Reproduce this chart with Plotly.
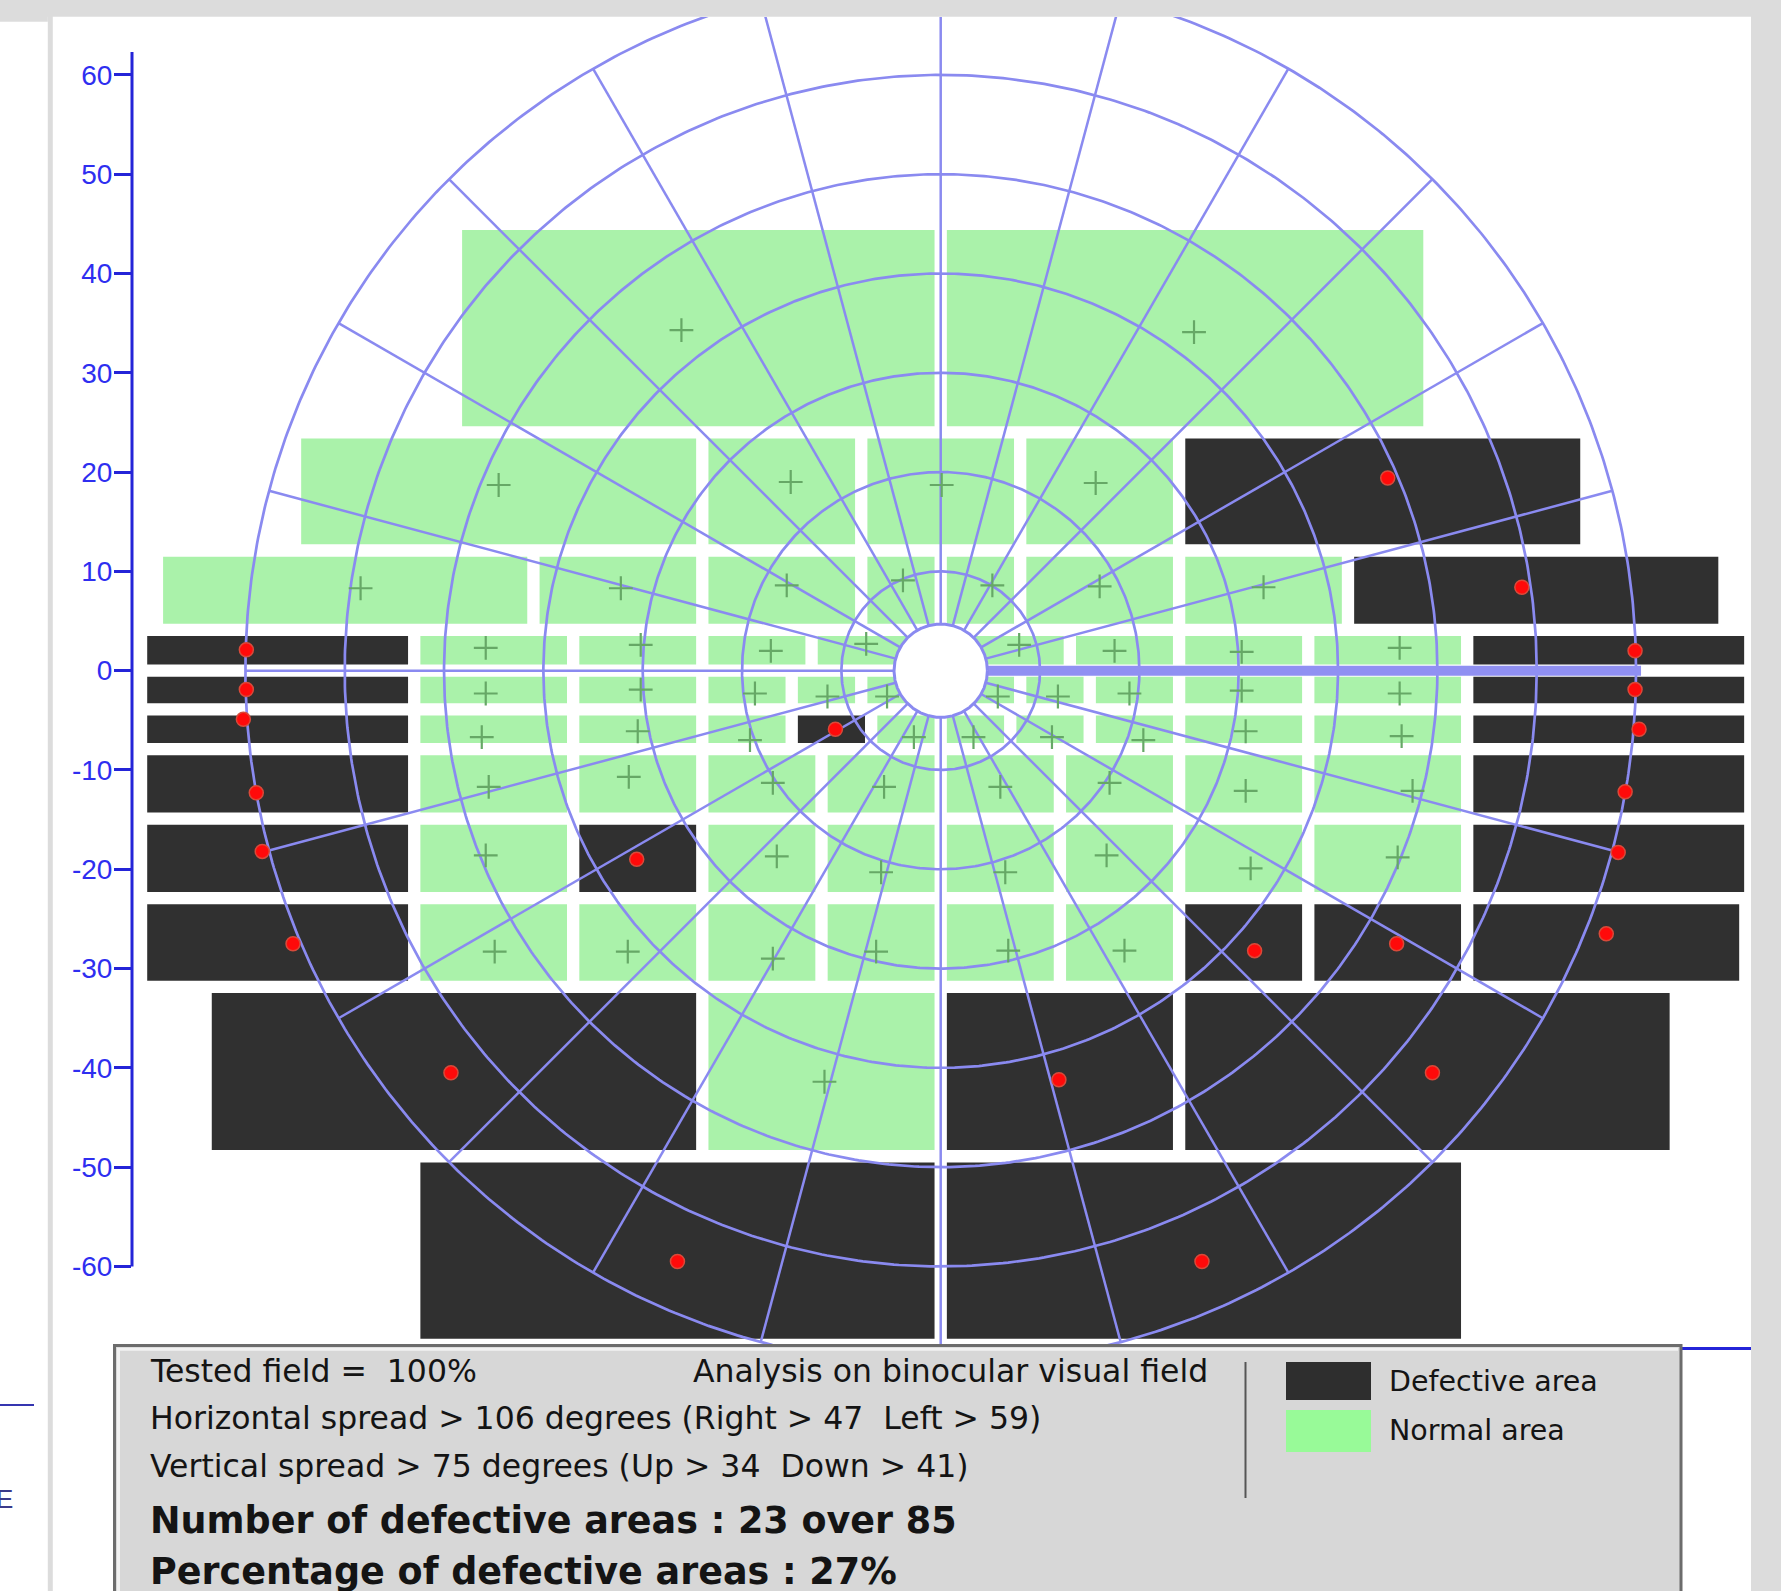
import numpy as np
import plotly.graph_objects as go

# ---------------- data (degrees) ----------------
ROW_EDGES = [45.0, 24.0, 12.1, 4.1, 0.0, -3.9, -7.9, -14.9, -22.9, -31.85, -48.9, -67.9]

ROW_X_EDGES = [
    [-48.8, 0, 49.2],
    [-65, -24, -8, 8, 24, 65],
    [-78.9, -41, -24, -8, 0, 8, 24, 41, 78.9],
    [-80.5, -53, -37, -24, -13, 0, 13, 24, 37, 53, 81.5],
    [-80.5, -53, -37, -24, -15, -8, 0, 8, 15, 24, 37, 53, 81.5],
    [-80.5, -53, -37, -24, -15, -7, 0, 7, 15, 24, 37, 53, 81.5],
    [-80.5, -53, -37, -24, -12, 0, 12, 24, 37, 53, 81.5],
    [-80.5, -53, -37, -24, -12, 0, 12, 24, 37, 53, 81.5],
    [-80.5, -53, -37, -24, -12, 0, 12, 24, 37, 53, 81],
    [-74, -24, 0, 24, 74],
    [-53, 0, 53],
]

# N = normal area, D = defective area
ROW_STATUS = [
    "NN",
    "NNNND",
    "NNNNNNND",
    "DNNNNNNNND",
    "DNNNNNNNNNND",
    "DNNNDNNNNNND",
    "DNNNNNNNND",
    "DNDNNNNNND",
    "DNNNNNNDDD",
    "DNDD",
    "DD",
]

ROW_POINT_X = [
    [-26.1, 25.5],
    [-44.5, -15.1, 0.1, 15.6, 45.0],
    [-58.4, -32.2, -15.5, -3.8, 5.2, 16.0, 32.5, 58.5],
    [-69.9, -45.8, -30.2, -17.1, -7.5, 7.9, 17.5, 30.3, 46.2, 69.9],
    [-69.9, -45.8, -30.2, -18.7, -11.4, -5.4, 5.75, 11.8, 19.0, 30.3, 46.2, 69.9],
    [-70.2, -46.2, -30.5, -19.2, -10.6, -2.7, 3.3, 11.2, 20.4, 30.7, 46.4, 70.3],
    [-68.9, -45.5, -31.4, -16.9, -5.7, 6.0, 17.0, 30.7, 47.5, 68.9],
    [-68.3, -45.8, -30.6, -16.5, -6.0, 6.5, 16.7, 31.2, 46.0, 68.2],
    [-65.2, -44.9, -31.5, -16.9, -6.5, 6.8, 18.5, 31.6, 45.9, 67.0],
    [-49.3, -11.7, 11.9, 49.5],
    [-26.5, 26.3],
]
ROW_POINT_Y = [
    [34.3, 34.1],
    [18.7, 19.0, 18.7, 18.9, 19.4],
    [8.3, 8.3, 8.6, 9.1, 8.6, 8.5, 8.4, 8.4],
    [2.1, 2.3, 2.6, 2.0, 2.7, 2.6, 2.0, 1.9, 2.3, 2.0],
    [-1.9, -2.3, -1.9, -2.3, -2.6, -2.6, -2.6, -2.6, -2.3, -2.0, -2.3, -1.9],
    [-4.9, -6.7, -6.1, -7.0, -5.9, -6.7, -6.7, -6.7, -7.0, -6.1, -6.6, -5.9],
    [-12.3, -11.7, -10.7, -11.3, -11.7, -11.7, -11.3, -12.1, -12.1, -12.2],
    [-18.2, -18.6, -19.0, -18.7, -20.3, -20.3, -18.6, -19.9, -18.8, -18.3],
    [-27.5, -28.3, -28.3, -29.0, -28.3, -28.2, -28.2, -28.2, -27.5, -26.5],
    [-40.5, -41.4, -41.2, -40.5],
    [-59.5, -59.5],
]

RING_RADII = [10, 20, 30, 40, 50, 60, 70]
RADIAL_ANGLES = list(range(0, 360, 15))
CENTER_RADIUS = 4.7
BLIND_LINE_END = 70.5
Y_TICKS = list(range(-60, 61, 10))
Y_AXIS_LINE_SPAN = [-60, 62.3]

INFO_LINES = [
    "Tested field =  100%",
    "Horizontal spread > 106 degrees (Right > 47  Left > 59)",
    "Vertical spread > 75 degrees (Up > 34  Down > 41)",
]
INFO_RIGHT = "Analysis on binocular visual field"
INFO_BOLD = [
    "Number of defective areas : 23 over 85",
    "Percentage of defective areas : 27%",
]
LEGEND_LABELS = ["Defective area", "Normal area"]

# ---------------- styling ----------------
W, H = 1781, 1591
ML, MR, MT, MB = 132, 30, 17, 244
PW, PH = W - ML - MR, H - MT - MB
X_RANGE = [-81.41, 81.57]
Y_RANGE = [-68.11, 65.83]
GAP = 0.62
DARK = "#303030"
GREEN = "#aaf2aa"
GRID = "#8a8af0"
AXIS_BLUE = "#2424d8"
LABEL_BLUE = "#2e2ef0"


def px(X):
    return (X - ML) / PW


def py(Y):
    return (H - MB - Y) / PH


fig = go.Figure()
shapes = []

# cells
for r, xe in enumerate(ROW_X_EDGES):
    top, bot = ROW_EDGES[r], ROW_EDGES[r + 1]
    for i in range(len(xe) - 1):
        col = DARK if ROW_STATUS[r][i] == "D" else GREEN
        shapes.append(dict(type="rect", xref="x", yref="y",
                           x0=xe[i] + GAP, x1=xe[i + 1] - GAP,
                           y0=bot + GAP, y1=top - GAP,
                           fillcolor=col, line=dict(width=0), layer="below"))

# rings
t = np.linspace(0, 2 * np.pi, 721)
rx, ry = [], []
for rad in RING_RADII:
    rx += list(rad * np.cos(t)) + [None]
    ry += list(rad * np.sin(t)) + [None]
fig.add_trace(go.Scatter(x=rx, y=ry, mode="lines",
                         line=dict(color=GRID, width=2.7), hoverinfo="skip"))

# radial lines
lx, ly = [], []
for a in RADIAL_ANGLES:
    if a == 0:
        continue
    th = np.deg2rad(a)
    lx += [CENTER_RADIUS * np.cos(th), RING_RADII[-1] * np.cos(th), None]
    ly += [CENTER_RADIUS * np.sin(th), RING_RADII[-1] * np.sin(th), None]
fig.add_trace(go.Scatter(x=lx, y=ly, mode="lines",
                         line=dict(color=GRID, width=2.5), hoverinfo="skip"))

# thick blind-spot line
fig.add_trace(go.Scatter(x=[CENTER_RADIUS, BLIND_LINE_END], y=[0, 0], mode="lines",
                         line=dict(color="#9090f2", width=10), hoverinfo="skip"))

# central disc
fig.add_trace(go.Scatter(x=list(CENTER_RADIUS * np.cos(t)), y=list(CENTER_RADIUS * np.sin(t)),
                         mode="lines", fill="toself", fillcolor="white",
                         line=dict(color=GRID, width=3), hoverinfo="skip"))

# test points
nx, ny, dx, dy = [], [], [], []
for r in range(len(ROW_POINT_X)):
    for i, (xv, yv) in enumerate(zip(ROW_POINT_X[r], ROW_POINT_Y[r])):
        if ROW_STATUS[r][i] == "D":
            dx.append(xv); dy.append(yv)
        else:
            nx.append(xv); ny.append(yv)
fig.add_trace(go.Scatter(x=nx, y=ny, mode="markers",
                         marker=dict(symbol="cross-thin", size=17,
                                     line=dict(color="#66a866", width=2.2)),
                         hoverinfo="skip"))
fig.add_trace(go.Scatter(x=dx, y=dy, mode="markers",
                         marker=dict(symbol="circle", size=14, color="#ff0a0a",
                                     line=dict(color="#d84a3a", width=1.5)),
                         hoverinfo="skip"))

# y axis line (partial span)
shapes.append(dict(type="line", xref="paper", yref="y", x0=0, x1=0,
                   y0=Y_AXIS_LINE_SPAN[0], y1=Y_AXIS_LINE_SPAN[1],
                   line=dict(color=AXIS_BLUE, width=3)))

# page frame (greys around the panel)
GREY = "#dcdcdc"
shapes += [
    dict(type="rect", xref="paper", yref="paper", x0=px(-5), x1=px(W + 5), y0=py(16.7), y1=py(-5),
         fillcolor=GREY, line=dict(width=0), layer="above"),
    dict(type="rect", xref="paper", yref="paper", x0=px(-5), x1=px(47.8), y0=py(21.7), y1=py(-5),
         fillcolor=GREY, line=dict(width=0), layer="above"),
    dict(type="rect", xref="paper", yref="paper", x0=px(47.8), x1=px(52.8), y0=py(H + 5), y1=py(-5),
         fillcolor=GREY, line=dict(width=0), layer="above"),
    dict(type="rect", xref="paper", yref="paper", x0=px(1751), x1=px(W + 5), y0=py(H + 5), y1=py(-5),
         fillcolor=GREY, line=dict(width=0), layer="above"),
    dict(type="line", xref="paper", yref="paper", x0=px(-2), x1=px(34), y0=py(1405), y1=py(1405),
         line=dict(color="#3535b0", width=2), layer="above"),
]

# info box
shapes += [
    dict(type="rect", xref="paper", yref="paper", x0=px(114.5), x1=px(1681), y0=py(1600), y1=py(1345.5),
         fillcolor="#d7d7d7", line=dict(color="#6c6c6c", width=3), layer="above"),
    dict(type="line", xref="paper", yref="paper", x0=px(117), x1=px(1678), y0=py(1349.2), y1=py(1349.2),
         line=dict(color="#f2f2f2", width=3), layer="above"),
    dict(type="line", xref="paper", yref="paper", x0=px(118.5), x1=px(118.5), y0=py(1349), y1=py(1600),
         line=dict(color="#f2f2f2", width=3), layer="above"),
    dict(type="line", xref="paper", yref="paper", x0=px(1245.5), x1=px(1245.5), y0=py(1362), y1=py(1498),
         line=dict(color="#555555", width=2), layer="above"),
    dict(type="rect", xref="paper", yref="paper", x0=px(1286), x1=px(1371), y0=py(1400), y1=py(1362),
         fillcolor="#2e2e2e", line=dict(width=0), layer="above"),
    dict(type="rect", xref="paper", yref="paper", x0=px(1286), x1=px(1371), y0=py(1452), y1=py(1410),
         fillcolor="#98fa98", line=dict(width=0), layer="above"),
]

ann = []
TXT = "#141414"
for txt, yy in zip(INFO_LINES, [1371, 1417.5, 1466]):
    ann.append(dict(text=txt, x=px(148), y=py(yy), xref="paper", yref="paper",
                    xanchor="left", yanchor="middle", showarrow=False,
                    font=dict(family="DejaVu Sans", size=31.5, color=TXT)))
ann.append(dict(text=INFO_RIGHT, x=px(691), y=py(1371), xref="paper", yref="paper",
                xanchor="left", yanchor="middle", showarrow=False,
                font=dict(family="DejaVu Sans", size=31.5, color=TXT)))
for txt, yy in zip(INFO_BOLD, [1520, 1571]):
    ann.append(dict(text="<b>" + txt + "</b>", x=px(148), y=py(yy), xref="paper", yref="paper",
                    xanchor="left", yanchor="middle", showarrow=False,
                    font=dict(family="DejaVu Sans", size=36.5, color=TXT)))
for txt, yy in zip(LEGEND_LABELS, [1381.5, 1430]):
    ann.append(dict(text=txt, x=px(1387), y=py(yy), xref="paper", yref="paper",
                    xanchor="left", yanchor="middle", showarrow=False,
                    font=dict(family="DejaVu Sans", size=28.5, color=TXT)))
# clipped letter of the neighbouring panel on the left edge
ann.append(dict(text="E", x=px(-6), y=py(1499), xref="paper", yref="paper",
                xanchor="left", yanchor="middle", showarrow=False,
                font=dict(family="Liberation Sans", size=26, color="#3a3a8a")))

fig.update_layout(
    width=W, height=H, margin=dict(l=ML, r=MR, t=MT, b=MB, pad=0),
    paper_bgcolor="white", plot_bgcolor="white", showlegend=False,
    shapes=shapes, annotations=ann,
    xaxis=dict(range=X_RANGE, showgrid=False, zeroline=False, showticklabels=False,
               ticks="", showline=True, linecolor=AXIS_BLUE, linewidth=3, fixedrange=True),
    yaxis=dict(range=Y_RANGE, showgrid=False, zeroline=False, showline=False,
               tickvals=Y_TICKS, ticktext=[str(v) for v in Y_TICKS],
               ticks="outside", ticklen=17, tickwidth=3, tickcolor=AXIS_BLUE,
               ticklabelstandoff=-4,
               tickfont=dict(family="Liberation Sans", size=28, color=LABEL_BLUE),
               fixedrange=True),
)

fig.write_html("out.html")
